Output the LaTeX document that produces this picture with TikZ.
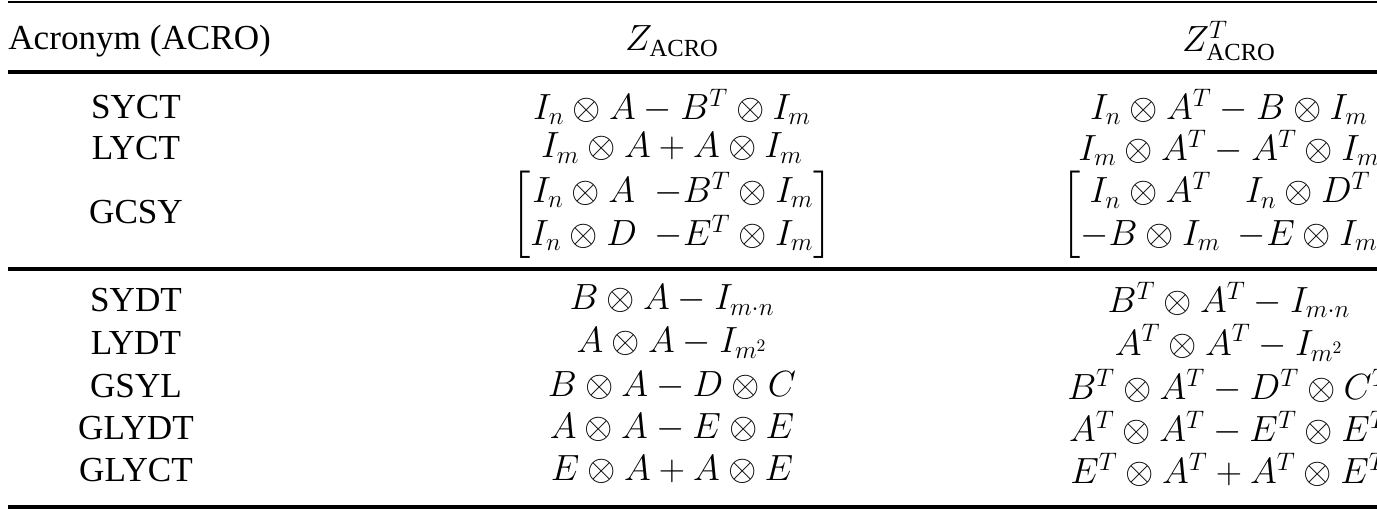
\documentclass[tikz,border=0pt]{standalone}
\usepackage{amsmath}
\usepackage{fontspec}
\setmainfont{Liberation Serif}
\tikzset{
  cell/.style={anchor=center,inner sep=0pt,font=\fontsize{20}{24}\selectfont},
  rule/.style={line width=#1}
}
\begin{document}
\begin{tikzpicture}[x=0.02cm,y=-0.02cm]
        \useasboundingbox (0,0) rectangle (1377,510);
        %% rules
        \draw[rule=1pt] (8,2) -- (1377,2);
        \draw[rule=2.5pt] (8,72) -- (1377,72);
        \draw[rule=2pt] (8,269) -- (1377,269);
        \draw[rule=2.5pt] (8,507) -- (1377,507);
        %% header
        \node[cell,anchor=west] (hacro) at (8,41) {Acronym (ACRO)};
        \node[cell] (hz) at (672,41) {$Z_{\text{ACRO}}$};
        \node[cell] (hzt) at (1229,41) {$Z_{\text{ACRO}}^{T}$};
        %% continuous-time
        \node[cell] (sycta) at (136,107) {SYCT};
        \node[cell] (syctz) at (672,107) {$I_n\otimes A-B^T\otimes I_m$};
        \node[cell] (syctt) at (1229,107) {$I_n\otimes A^T-B\otimes I_m$};
        \node[cell] (lycta) at (136,148) {LYCT};
        \node[cell] (lyctz) at (672,148) {$I_m\otimes A+A\otimes I_m$};
        \node[cell] (lyctt) at (1229,148) {$I_m\otimes A^T-A^T\otimes I_m$};
        \node[cell] (gcsya) at (136,212) {GCSY};
        \node[cell] (gcsyz) at (672,215) {$\begin{bmatrix} I_n\otimes A & -B^T\otimes I_m\\ I_n\otimes D & -E^T\otimes I_m\end{bmatrix}$};
        \node[cell] (gcsyt) at (1229,215) {$\begin{bmatrix} I_n\otimes A^T & I_n\otimes D^T\\ -B\otimes I_m & -E\otimes I_m\end{bmatrix}$};
        %% discrete-time and generalized
        \foreach \name/\y/\z/\zt in {
            SYDT/300/{B\otimes A-I_{m\cdot n}}/{B^T\otimes A^T-I_{m\cdot n}},
            LYDT/343/{A\otimes A-I_{m^2}}/{A^T\otimes A^T-I_{m^2}},
            GSYL/386/{B\otimes A-D\otimes C}/{B^T\otimes A^T-D^T\otimes C^T},
            GLYDT/428/{A\otimes A-E\otimes E}/{A^T\otimes A^T-E^T\otimes E^T},
            GLYCT/470/{E\otimes A+A\otimes E}/{E^T\otimes A^T+A^T\otimes E^T}}{
          \node[cell] (\name-a) at (136,\y) {\name};
          \node[cell] (\name-z) at (672,\y) {$\z$};
          \node[cell] (\name-t) at (1229,\y) {$\zt$};
        }
\end{tikzpicture}
\end{document}
